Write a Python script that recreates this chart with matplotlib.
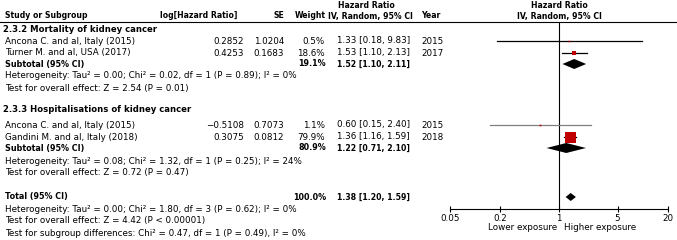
import matplotlib
matplotlib.use("Agg")
import matplotlib.pyplot as plt

plt.rcParams['font.family'] = ['DejaVu Sans']
FS = 6.3
FS_BOLD = 5.6

# ---- data ----
group_names = ["2.3.2 Mortality of kidney cancer", "2.3.3 Hospitalisations of kidney cancer"]
study_names = [["Ancona C. and al, Italy (2015)", "Turner M. and al, USA (2017)"],
               ["Ancona C. and al, Italy (2015)", "Gandini M. and al, Italy (2018)"]]
log_hr = [[0.2852, 0.4253], [-0.5108, 0.3075]]
se = [[1.0204, 0.1683], [0.7073, 0.0812]]
weight = [[0.5, 18.6], [1.1, 79.9]]
hr = [[1.33, 1.53], [0.60, 1.36]]
hr_lo = [[0.18, 1.10], [0.15, 1.16]]
hr_hi = [[9.83, 2.13], [2.40, 1.59]]
year = [[2015, 2017], [2015, 2018]]

sub_weight = [19.1, 80.9]
sub_hr = [1.52, 1.22]
sub_lo = [1.10, 0.71]
sub_hi = [2.11, 2.10]
sub_het = ["Heterogeneity: Tau² = 0.00; Chi² = 0.02, df = 1 (P = 0.89); I² = 0%",
           "Heterogeneity: Tau² = 0.08; Chi² = 1.32, df = 1 (P = 0.25); I² = 24%"]
sub_test = ["Test for overall effect: Z = 2.54 (P = 0.01)",
            "Test for overall effect: Z = 0.72 (P = 0.47)"]

tot_weight = 100.0
tot_hr, tot_lo, tot_hi = 1.38, 1.20, 1.59
tot_notes = ["Heterogeneity: Tau² = 0.00; Chi² = 1.80, df = 3 (P = 0.62); I² = 0%",
             "Test for overall effect: Z = 4.42 (P < 0.00001)",
             "Test for subgroup differences: Chi² = 0.47, df = 1 (P = 0.49), I² = 0%"]

xticks = [0.05, 0.2, 1, 5, 20]
xtick_labels = ["0.05", "0.2", "1", "5", "20"]

# ---- layout (pixel rows) ----
group_y = [30, 110]
study_y = [[41, 53], [125, 137]]
subtot_y = [64, 148]
het_y = [76, 161]
test_y = [88, 173]
total_y = 197
tot_note_y = [209, 221, 233]

W, H = 677, 240
fig = plt.figure(figsize=(W / 100, H / 100), dpi=100)
tx = fig.add_axes([0, 0, 1, 1])
tx.set_xlim(0, W)
tx.set_ylim(H, 0)
tx.axis("off")

ax_l, ax_r, ax_t, ax_b = 450, 668, 22, 209
ax = fig.add_axes([ax_l / W, (H - ax_b) / H, (ax_r - ax_l) / W, (ax_b - ax_t) / H])
ax.set_xscale("log")
ax.set_xlim(0.05, 20)
ax.set_ylim(ax_b, ax_t)
ax.patch.set_alpha(0)
for s in ["top", "left", "right"]:
    ax.spines[s].set_visible(False)
ax.spines["bottom"].set_linewidth(0.8)
ax.set_yticks([])
ax.set_xticks(xticks)
ax.set_xticklabels(xtick_labels)
ax.minorticks_off()
ax.tick_params(axis="x", direction="inout", length=5, width=0.8, labelsize=FS, pad=1)
ax.axvline(1, color="black", lw=0.8)


def t(x, y, s, ha="left", bold=False, size=None):
    if bold:
        tx.text(x, y, s, ha=ha, va="center", fontsize=size or FS_BOLD, fontweight="bold")
    else:
        tx.text(x, y, s, ha=ha, va="center", fontsize=size or FS)


# header
t(366, 5, "Hazard Ratio", ha="center", bold=True)
t(559, 5, "Hazard Ratio", ha="center", bold=True)
t(5, 16, "Study or Subgroup", bold=True)
t(199, 16, "log[Hazard Ratio]", ha="center", bold=True)
t(284, 16, "SE", ha="right", bold=True)
t(326, 16, "Weight", ha="right", bold=True)
t(370, 16, "IV, Random, 95% CI", ha="center", bold=True)
t(421, 16, "Year", bold=True)
t(559, 16, "IV, Random, 95% CI", ha="center", bold=True)
tx.axhline(22, color="black", lw=0.8)

for g in range(2):
    t(3, group_y[g], group_names[g], bold=True, size=6.1)
    for i in range(2):
        y = study_y[g][i]
        t(5, y, study_names[g][i])
        t(244, y, f"{log_hr[g][i]:.4f}".replace("-", "\u2212"), ha="right")
        t(284, y, f"{se[g][i]:.4f}", ha="right")
        t(325, y, f"{weight[g][i]:.1f}%", ha="right")
        t(337, y, f"{hr[g][i]:.2f} [{hr_lo[g][i]:.2f}, {hr_hi[g][i]:.2f}]")
        t(421, y, str(year[g][i]))
        lc = "#808080" if g == 1 and i == 0 else "black"
        ax.plot([hr_lo[g][i], hr_hi[g][i]], [y, y], color=lc, lw=0.9)
        side = 1.5 + 9.5 * weight[g][i] / 79.9
        ax.plot(hr[g][i], y, marker="s", ms=side * 0.72, color="#c00000", mew=0)
    y = subtot_y[g]
    t(5, y, "Subtotal (95% CI)", bold=True, size=5.8)
    t(326, y, f"{sub_weight[g]:.1f}%", ha="right", bold=True, size=5.8)
    t(337, y, f"{sub_hr[g]:.2f} [{sub_lo[g]:.2f}, {sub_hi[g]:.2f}]", bold=True)
    ax.fill([sub_lo[g], sub_hr[g], sub_hi[g], sub_hr[g]], [y, y - 5, y, y + 5],
            color="black", lw=0)
    t(5, het_y[g], sub_het[g])
    t(5, test_y[g], sub_test[g])

t(5, total_y, "Total (95% CI)", bold=True, size=5.8)
t(326, total_y, f"{tot_weight:.1f}%", ha="right", bold=True, size=5.8)
t(337, total_y, f"{tot_hr:.2f} [{tot_lo:.2f}, {tot_hi:.2f}]", bold=True)
ax.fill([tot_lo, tot_hr, tot_hi, tot_hr], [total_y, total_y - 4, total_y, total_y + 4],
        color="black", lw=0)
for s, y in zip(tot_notes, tot_note_y):
    t(5, y, s)

t(557, 228, "Lower exposure", ha="right")
t(564, 228, "Higher exposure")

fig.savefig("out.png", dpi=100)
